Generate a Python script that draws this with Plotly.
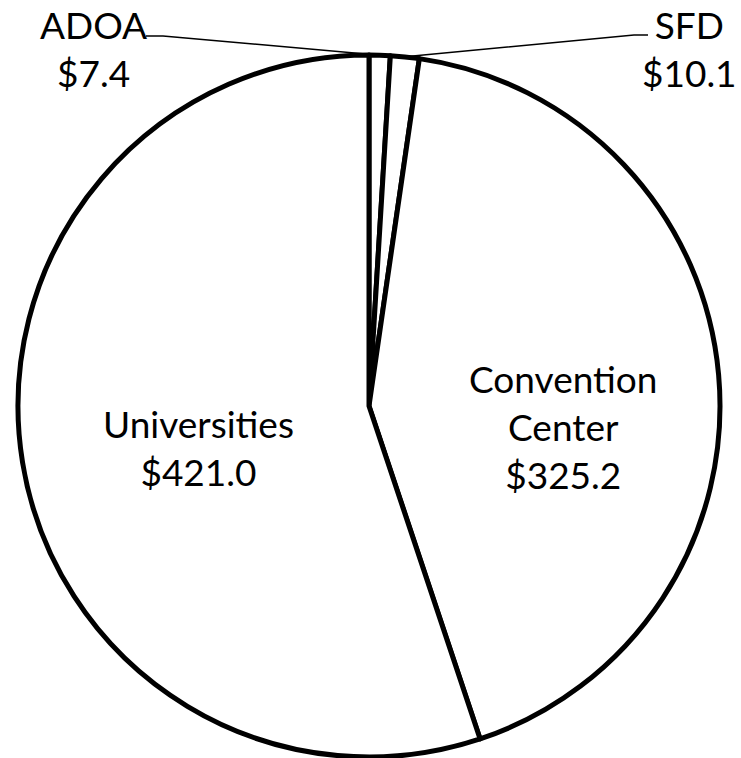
import math
import plotly.graph_objects as go

categories = ["ADOA", "SFD", "Convention Center", "Universities"]
values = [7.4, 10.1, 325.2, 421.0]
label_text = ["ADOA<br>$7.4", "SFD<br>$10.1", "Convention<br>Center<br>$325.2", "Universities<br>$421.0"]

W, H = 741, 758
CX, CY, R = 369, 406, 351  # pie centre / radius in pixels

FONT = dict(family="Lato, Open Sans, sans-serif", size=37, color="black")

fig = go.Figure(go.Pie(
    labels=categories,
    values=values,
    sort=False,
    direction="clockwise",
    rotation=0,
    textinfo="none",
    hoverinfo="label+value",
    marker=dict(colors=["white"] * len(values), line=dict(color="black", width=5)),
    domain=dict(x=[(CX - R) / W, (CX + R) / W], y=[1 - (CY + R) / H, 1 - (CY - R) / H]),
    showlegend=False,
))

def px2paper(x, y):
    return x / W, 1 - y / H

total = sum(values)
cum = 0
mids = []
for v in values:
    mids.append((cum + v / 2) / total * 2 * math.pi)
    cum += v

# leader lines for the two small slices (from label to slice arc midpoint)
leaders = {0: (146, 36, 163, 36), 1: (648, 35, 634, 35)}
shapes = []
for i, (x0, y0, x1, y1) in leaders.items():
    ex = CX + R * math.sin(mids[i])
    ey = CY - R * math.cos(mids[i])
    p0 = px2paper(x0, y0); p1 = px2paper(x1, y1); p2 = px2paper(ex, ey)
    shapes.append(dict(type="path", xref="paper", yref="paper",
                       path=f"M {p0[0]} {p0[1]} L {p1[0]} {p1[1]} L {p2[0]} {p2[1]}",
                       line=dict(color="black", width=1.5)))

label_pos = [(93, 49), (689, 49), (563, 426), (198, 447)]
annotations = []
for txt, (x, y) in zip(label_text, label_pos):
    px, py = px2paper(x, y)
    annotations.append(dict(x=px, y=py, xref="paper", yref="paper", text=txt,
                            showarrow=False, xanchor="center", yanchor="middle",
                            font=FONT, align="center"))

fig.update_layout(
    width=W, height=H,
    margin=dict(l=0, r=0, t=0, b=0),
    paper_bgcolor="white", plot_bgcolor="white",
    shapes=shapes, annotations=annotations,
)

fig.write_html("out.html", config={"displayModeBar": False},
               post_script="document.body.style.margin='0';document.body.style.overflow='hidden';")
